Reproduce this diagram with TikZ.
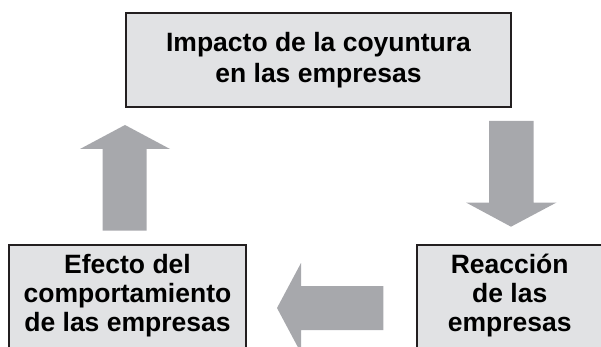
\documentclass[tikz,border=0pt]{standalone}
\usepackage{fontspec}
\setmainfont{Liberation Sans}
\usepackage{tikz}
\usetikzlibrary{positioning}
\definecolor{boxgray}{HTML}{E1E2E4}
\definecolor{arrowgray}{HTML}{A7A8AC}
\definecolor{edgeblack}{HTML}{231F20}
\tikzset{
	box/.style={draw=edgeblack, line width=1.8pt, fill=boxgray, align=center, inner xsep=0pt,
		font=\bfseries\fontsize{26.5}{29}\selectfont},
	blockarrow/.style={fill=arrowgray, draw=none}
}
\begin{document}
\begin{tikzpicture}[x=1pt,y=-1pt]
	\useasboundingbox (0,0) rectangle (601,347);
	\clip (0,0) rectangle (601,347);
	\node [box, minimum width=385pt, minimum height=94pt, font=\bfseries\fontsize{26.5}{31.5}\selectfont] (impacto) at (318.5,60) {Impacto de la coyuntura\\en las empresas};
	\node [box, anchor=north, minimum width=237pt, inner ysep=9.5pt] (efecto) at (127.5,244) {Efecto del\\comportamiento\\de las empresas\\[10pt]~};
	\node [box, anchor=north, minimum width=185pt, inner ysep=9.5pt] (reaccion) at (509.7,244) {Reacción\\de las\\empresas\\[10pt]~};
	\fill [blockarrow] (125,125) -- (170,149) -- (146.7,149) -- (146.7,230.5) -- (102.7,230.5) -- (102.7,149) -- (80,149) -- cycle;
	\fill [blockarrow] (511,226.7) -- (556.5,202.5) -- (533.5,202.5) -- (533.5,121) -- (489,121) -- (489,202.5) -- (466,202.5) -- cycle;
	\fill [blockarrow] (277,308) -- (301,263) -- (301,286) -- (383.3,286) -- (383.3,330) -- (301,330) -- (301,353) -- cycle;
\end{tikzpicture}
\end{document}
